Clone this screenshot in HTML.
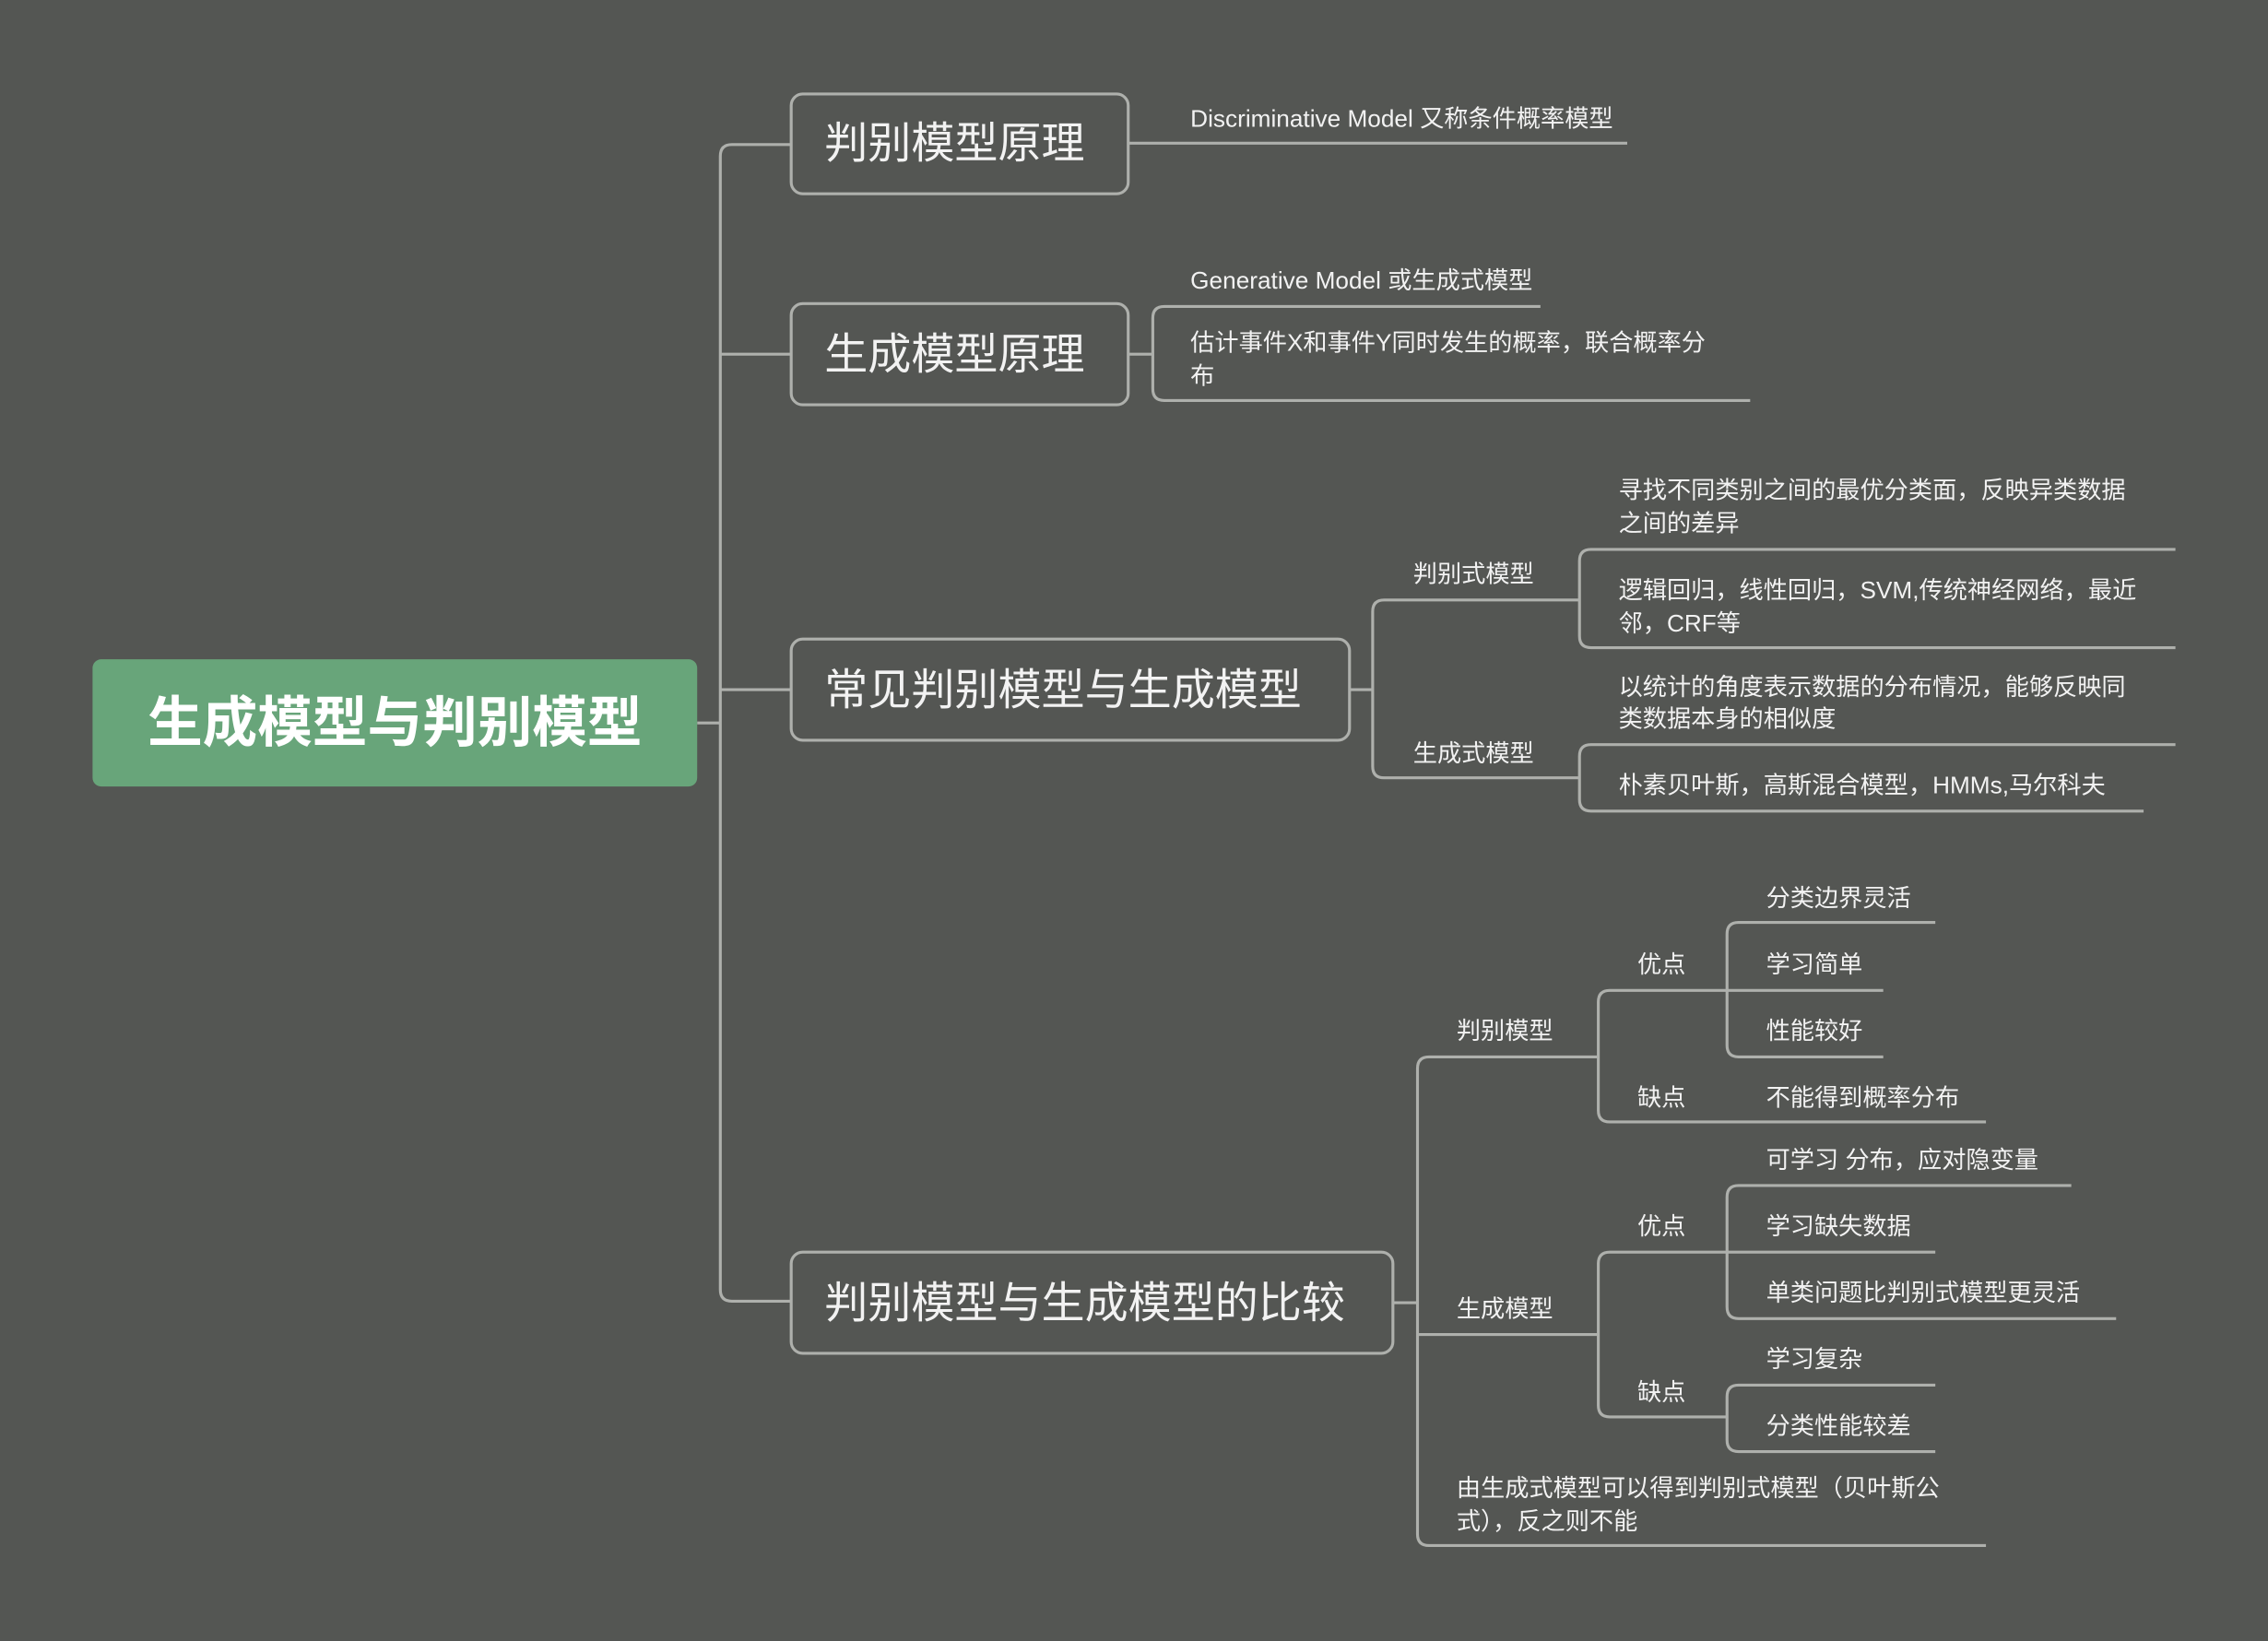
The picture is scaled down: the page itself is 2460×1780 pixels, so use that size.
<!DOCTYPE html>
<html><head><meta charset="utf-8"><style>
html,body{margin:0;padding:0;background:#545653;}
svg{display:block;}
text{font-family:"Liberation Sans","Noto Sans CJK SC",sans-serif;fill:#f2f2f2;dominant-baseline:central;}
.s{font-size:16.7px;}
.b{font-size:30px;}
</style></head><body>
<svg width="2460" height="1780" viewBox="0 0 1568 1135" preserveAspectRatio="none" xmlns="http://www.w3.org/2000/svg">
<rect width="1568" height="1135" fill="#545653"/>
<g fill="none" stroke="#aeb0ac" stroke-width="2">
<path d="M482 500 H498"/>
<path d="M547 100 H506 Q498 100 498 108 V892 Q498 900 506 900 H547"/>
<path d="M498 245 H547 M498 477 H547"/>
<rect x="547" y="65" width="233" height="69" rx="8"/>
<rect x="547" y="210" width="233" height="70" rx="8"/>
<rect x="547" y="442" width="386" height="70" rx="8"/>
<rect x="547" y="866" width="416" height="70" rx="8"/>
<path d="M780 99 H1125"/>
<path d="M780 245 H797"/>
<path d="M1065 212 H805 Q797 212 797 220 V269 Q797 277 805 277 H1210"/>
<path d="M933 477 H949"/>
<path d="M1092 415 H957 Q949 415 949 423 V530 Q949 538 957 538 H1092"/>
<path d="M1504 380 H1100 Q1092 380 1092 388 V440 Q1092 448 1100 448 H1504"/>
<path d="M1504 515 H1100 Q1092 515 1092 523 V553 Q1092 561 1100 561 H1482"/>
<path d="M963 901 H980"/>
<path d="M1105 731 H988 Q980 731 980 739 V1061 Q980 1069 988 1069 H1373"/>
<path d="M980 923 H1105"/>
<path d="M1194 685 H1113 Q1105 685 1105 693 V768 Q1105 776 1113 776 H1373"/>
<path d="M1338 638 H1202 Q1194 638 1194 646 V723 Q1194 731 1202 731 H1302"/>
<path d="M1194 685 H1302"/>
<path d="M1194 866 H1113 Q1105 866 1105 874 V972 Q1105 980 1113 980 H1194"/>
<path d="M1432 820 H1202 Q1194 820 1194 828 V904 Q1194 912 1202 912 H1463"/>
<path d="M1194 866 H1338"/>
<path d="M1338 958 H1202 Q1194 958 1194 966 V996 Q1194 1004 1202 1004 H1338"/>
</g>
<rect x="64" y="456" width="418" height="88" rx="6" fill="#68a57a"/>
<text x="273" y="500" text-anchor="middle" style="font-size:38px;font-weight:bold;fill:#fff">生成模型与判别模型</text>
<text class="b" x="570" y="99">判别模型原理</text>
<text class="b" x="570" y="245">生成模型原理</text>
<text class="b" x="570" y="477">常见判别模型与生成模型</text>
<text class="b" x="570" y="901">判别模型与生成模型的比较</text>
<text class="s" x="823" y="82">Discriminative Model 又称条件概率模型</text>
<text class="s" x="823" y="194">Generative Model 或生成式模型</text>
<text class="s" x="823" y="237">估计事件X和事件Y同时发生的概率，联合概率分</text>
<text class="s" x="823" y="260">布</text>
<text class="s" x="977" y="397">判别式模型</text>
<text class="s" x="977" y="521">生成式模型</text>
<text class="s" x="1119" y="339">寻找不同类别之间的最优分类面，反映异类数据</text>
<text class="s" x="1119" y="362">之间的差异</text>
<text class="s" x="1119" y="408">逻辑回归，线性回归，SVM,传统神经网络，最近</text>
<text class="s" x="1119" y="431">邻，CRF等</text>
<text class="s" x="1119" y="475">以统计的角度表示数据的分布情况，能够反映同</text>
<text class="s" x="1119" y="497">类数据本身的相似度</text>
<text class="s" x="1119" y="543">朴素贝叶斯，高斯混合模型，HMMs,马尔科夫</text>
<text class="s" x="1007" y="713">判别模型</text>
<text class="s" x="1132" y="667">优点</text>
<text class="s" x="1132" y="759">缺点</text>
<text class="s" x="1221" y="621">分类边界灵活</text>
<text class="s" x="1221" y="667">学习简单</text>
<text class="s" x="1221" y="713">性能较好</text>
<text class="s" x="1221" y="759">不能得到概率分布</text>
<text class="s" x="1007" y="905">生成模型</text>
<text class="s" x="1132" y="848">优点</text>
<text class="s" x="1132" y="963">缺点</text>
<text class="s" x="1221" y="802">可学习 分布，应对隐变量</text>
<text class="s" x="1221" y="848">学习缺失数据</text>
<text class="s" x="1221" y="894">单类问题比判别式模型更灵活</text>
<text class="s" x="1221" y="940">学习复杂</text>
<text class="s" x="1221" y="986">分类性能较差</text>
<text class="s" x="1007" y="1029">由生成式模型可以得到判别式模型（贝叶斯公</text>
<text class="s" x="1007" y="1052">式），反之则不能</text>
</svg>
</body></html>
